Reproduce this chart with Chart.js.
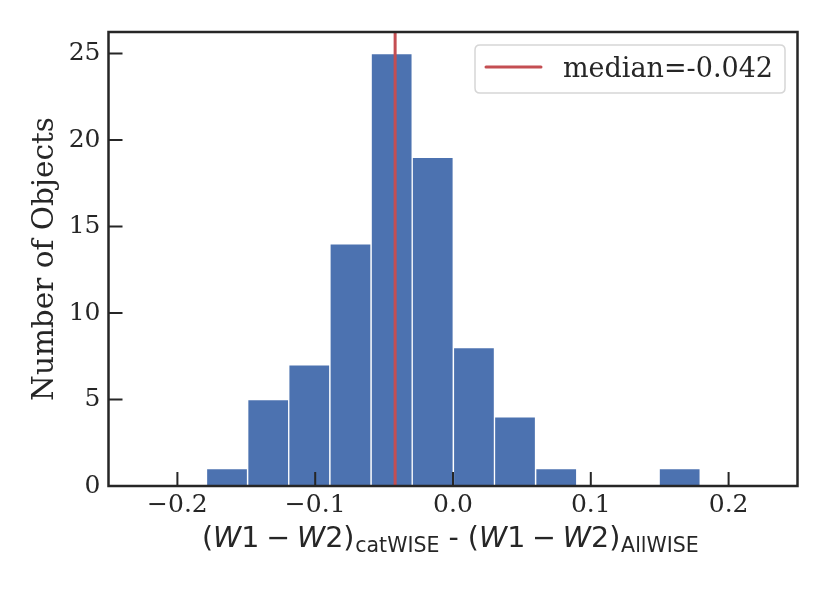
<!DOCTYPE html>
<html><head><meta charset="utf-8">
<script src="https://cdn.jsdelivr.net/npm/chart.js@4/dist/chart.umd.min.js"></script>
<style>html,body{margin:0;padding:0;background:#fff}</style>
</head><body>
<canvas id="c" width="830" height="593" style="width:830px;height:593px;display:block"></canvas>
<script>
// ---- data ----
const binCenters = [-0.1640, -0.1341, -0.1043, -0.0744, -0.0445, -0.0147, 0.0152, 0.0450, 0.0749, 0.1048, 0.1346, 0.1645];
const counts     = [1, 5, 7, 14, 25, 19, 8, 4, 1, 0, 0, 1];
const medianValue = -0.042;
const medianLabel = 'median=-0.042';
const xRange = [-0.25, 0.25];
const yRange = [0, 26.25];
const xTickValues = [-0.2, -0.1, 0.0, 0.1, 0.2];
const yTickValues = [0, 5, 10, 15, 20, 25];
const yAxisTitle = 'Number of Objects';
// x-axis title segments: [text, style, gapBeforeEm, gapAfterEm]  n = normal, i = italic, s = subscript
const xTitleParts = [
  ['(', 'n', 0, 0], ['W', 'i', 0, 0], ['1', 'n', 0, 0], ['\u2212', 'n', 0.24, 0.24], ['W', 'i', 0, 0], ['2', 'n', 0, 0], [')', 'n', 0, 0], ['catWISE', 's', 0.03, 0],
  [' - ', 'n', 0, 0],
  ['(', 'n', 0, 0], ['W', 'i', 0, 0], ['1', 'n', 0, 0], ['\u2212', 'n', 0.24, 0.24], ['W', 'i', 0, 0], ['2', 'n', 0, 0], [')', 'n', 0, 0], ['AllWISE', 's', 0.03, 0]
];

const INK = '#262626';
const BAR = '#4C72B0';
const RED = '#C44E52';

const framePlugin = {
  id: 'frame',
  afterDatasetsDraw(chart) {
    const {ctx, chartArea: a, scales} = chart;
    ctx.save();
    ctx.strokeStyle = INK;
    ctx.lineWidth = 2;
    ctx.beginPath();
    scales.x.ticks.forEach((t, i) => {
      const px = scales.x.getPixelForTick(i);
      ctx.moveTo(px, a.bottom); ctx.lineTo(px, a.bottom - 14);
    });
    scales.y.ticks.forEach((t, i) => {
      const py = scales.y.getPixelForTick(i);
      ctx.moveTo(a.left, py); ctx.lineTo(a.left + 14, py);
    });
    ctx.stroke();
    ctx.lineWidth = 2.5;
    ctx.strokeRect(a.left, a.top, a.right - a.left, a.bottom - a.top);
    ctx.restore();
  },
  afterDraw(chart) {
    const {ctx} = chart;
    ctx.save();
    // legend
    const lx = 475, ly = 45, lw = 310, lh = 48, r = 5;
    ctx.beginPath();
    ctx.moveTo(lx + r, ly); ctx.lineTo(lx + lw - r, ly); ctx.quadraticCurveTo(lx + lw, ly, lx + lw, ly + r);
    ctx.lineTo(lx + lw, ly + lh - r); ctx.quadraticCurveTo(lx + lw, ly + lh, lx + lw - r, ly + lh);
    ctx.lineTo(lx + r, ly + lh); ctx.quadraticCurveTo(lx, ly + lh, lx, ly + lh - r);
    ctx.lineTo(lx, ly + r); ctx.quadraticCurveTo(lx, ly, lx + r, ly);
    ctx.closePath();
    ctx.fillStyle = 'rgba(255,255,255,0.8)';
    ctx.fill();
    ctx.strokeStyle = '#d6d6d6';
    ctx.lineWidth = 1.5;
    ctx.stroke();
    ctx.strokeStyle = RED; ctx.lineWidth = 3; ctx.lineCap = 'round';
    ctx.beginPath(); ctx.moveTo(486, 67); ctx.lineTo(541, 67); ctx.stroke();
    ctx.fillStyle = INK;
    ctx.font = '27px "DejaVu Serif"';
    ctx.textBaseline = 'alphabetic';
    ctx.textAlign = 'left';
    ctx.fillText(medianLabel, 563, 77);
    // x-axis title
    const MAIN = 28.5, SUB = 20.5;
    const fonts = {n: MAIN + 'px "DejaVu Sans"', i: 'italic ' + MAIN + 'px "DejaVu Sans"', s: SUB + 'px "DejaVu Sans"'};
    const widths = xTitleParts.map(([t, s, gb, ga]) => {
      ctx.font = fonts[s];
      return ctx.measureText(t).width + (gb + ga) * MAIN;
    });
    let x = 202;
    const base = 547;
    xTitleParts.forEach(([t, s, gb], i) => {
      ctx.font = fonts[s];
      ctx.fillText(t, x + gb * MAIN, s === 's' ? base + 5 : base);
      x += widths[i];
    });
    ctx.restore();
  }
};

new Chart(document.getElementById('c'), {
  data: {
    datasets: [
      {
        type: 'line',
        label: medianLabel,
        data: [{x: medianValue, y: yRange[0]}, {x: medianValue, y: yRange[1]}],
        borderColor: RED,
        borderWidth: 3,
        pointRadius: 0,
        order: 0
      },
      {
        type: 'bar',
        label: 'counts',
        data: binCenters.map((c, i) => ({x: c, y: counts[i]})),
        backgroundColor: BAR,
        borderColor: '#ffffff',
        borderWidth: 1,
        borderSkipped: 'start',
        barPercentage: 1,
        categoryPercentage: 1,
        order: 1
      }
    ]
  },
  options: {
    responsive: false,
    animation: false,
    devicePixelRatio: 1,
    layout: {padding: {left: 0, top: 32, right: 32.5, bottom: 0}},
    plugins: {legend: {display: false}, tooltip: {enabled: false}},
    scales: {
      x: {
        type: 'linear',
        offset: false,
        min: xRange[0], max: xRange[1],
        grid: {display: false, drawTicks: false, offset: false},
        border: {display: false},
        afterBuildTicks: s => { s.ticks = xTickValues.map(v => ({value: v})); },
        ticks: {
          padding: 4, color: INK,
          font: {family: '"DejaVu Serif"', size: 25},
          maxRotation: 0, autoSkip: false,
          callback: v => { const r = Math.round(v * 10) / 10; return (r < 0 ? '\u2212' : '') + Math.abs(r).toFixed(1); }
        },
        afterFit: s => { s.height = 107; }
      },
      y: {
        type: 'linear',
        min: yRange[0], max: yRange[1],
        grid: {display: false, drawTicks: false},
        border: {display: false},
        afterBuildTicks: s => { s.ticks = yTickValues.map(v => ({value: v})); },
        ticks: {
          padding: 8, color: INK, autoSkip: false,
          font: {family: '"DejaVu Serif"', size: 25}
        },
        title: {
          display: true, text: yAxisTitle, color: INK,
          font: {family: '"DejaVu Serif"', size: 29.5},
          padding: {top: 28, bottom: 0}
        },
        afterFit: s => { s.width = 108.5; }
      }
    }
  },
  plugins: [framePlugin]
});
</script>
</body></html>
